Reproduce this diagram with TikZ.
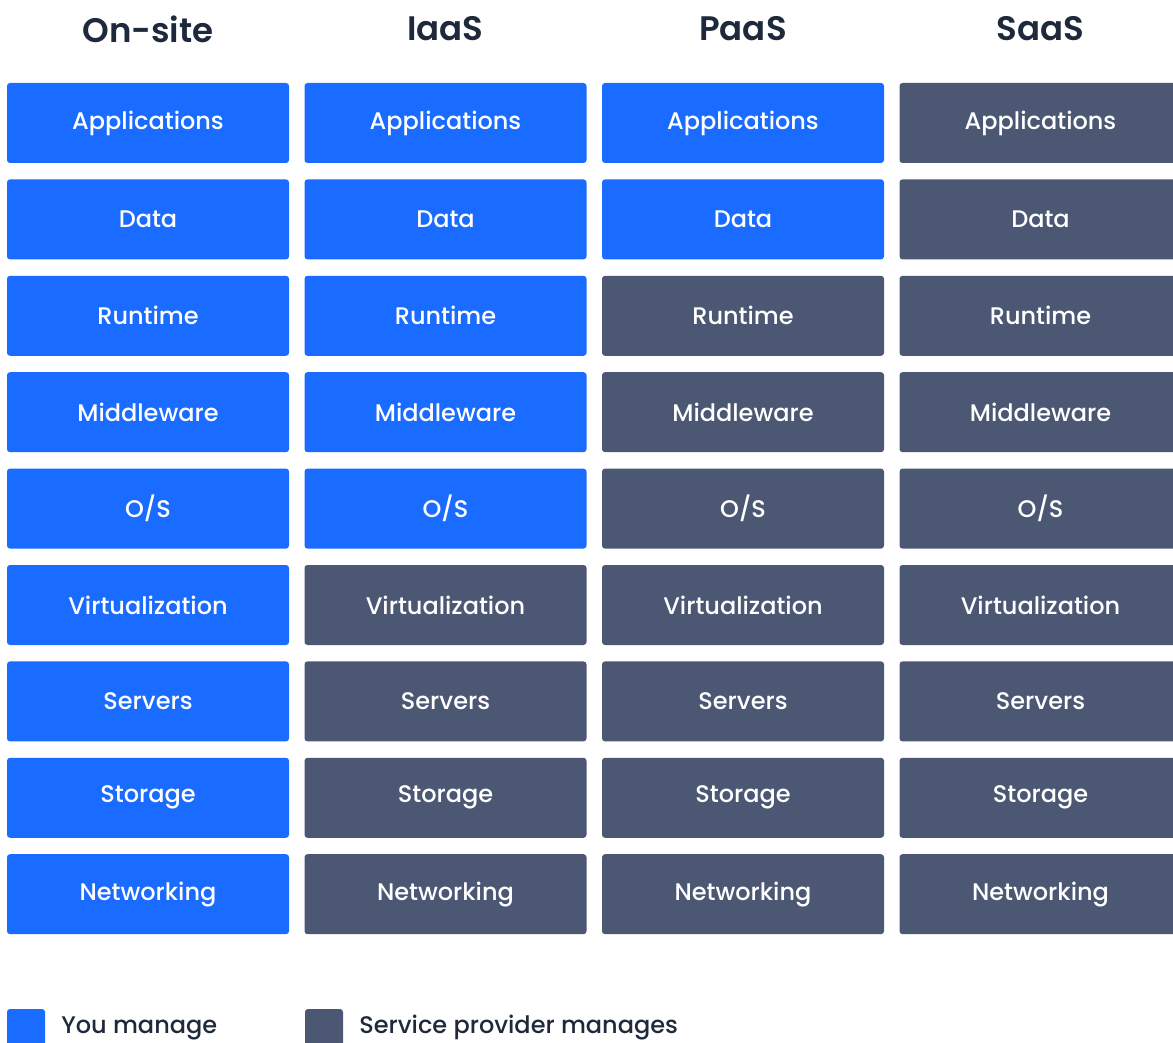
\documentclass[tikz,border=0pt]{standalone}
\usepackage{fontspec}
\setmainfont{Poppins}
\newfontfamily\boxfont{Poppins Medium}
\newfontfamily\headfont{Poppins SemiBold}
\usetikzlibrary{positioning}
\definecolor{youblue}{HTML}{1A6BFF}
\definecolor{provgray}{HTML}{4B5773}
\definecolor{headink}{HTML}{1E2A3B}
\tikzstyle{layer}=[rectangle, rounded corners=3pt, minimum width=282pt, minimum height=80pt, inner sep=0pt, text=white, font=\boxfont\fontsize{24}{28}\selectfont]
\tikzstyle{head}=[text=headink, font=\headfont\fontsize{34}{38}\selectfont]
\tikzstyle{keybox}=[rectangle, rounded corners=3pt, minimum size=38pt, inner sep=0pt]
\tikzstyle{keytext}=[text=headink, font=\boxfont\fontsize{24}{28}\selectfont, inner sep=0pt]

\begin{document}
\begin{tikzpicture}[x=1pt,y=-1pt]
   \useasboundingbox (0,0) rectangle (1173,1043);
   % column titles
   \foreach \c/\t in {1/On-site,2/IaaS,3/PaaS,4/SaaS}
      \node[head] (h\c) at ({148+297.5*(\c-1)},29) {\t};
   % stack, \n = rows you manage
   \foreach \name [count=\r] in {Applications,Data,Runtime,Middleware,O/S,Virtualization,Servers,Storage,Networking}
      \foreach \c/\n in {1/9,2/5,3/2,4/0} {
         \ifnum\r>\n\def\fillc{provgray}\else\def\fillc{youblue}\fi
         \node[layer, fill=\fillc] (c\c-r\r) at ({148+297.5*(\c-1)},{123+96.4*(\r-1)}) {\name};
      }
   % legend
   \node[keybox, fill=youblue] (key-you) at (26,1028) {};
   \node[keytext, right=16pt of key-you] (txt-you) {You manage};
   \node[keybox, fill=provgray] (key-prov) at (324,1028) {};
   \node[keytext, right=16pt of key-prov] (txt-prov) {Service provider manages};
\end{tikzpicture}
\end{document}
